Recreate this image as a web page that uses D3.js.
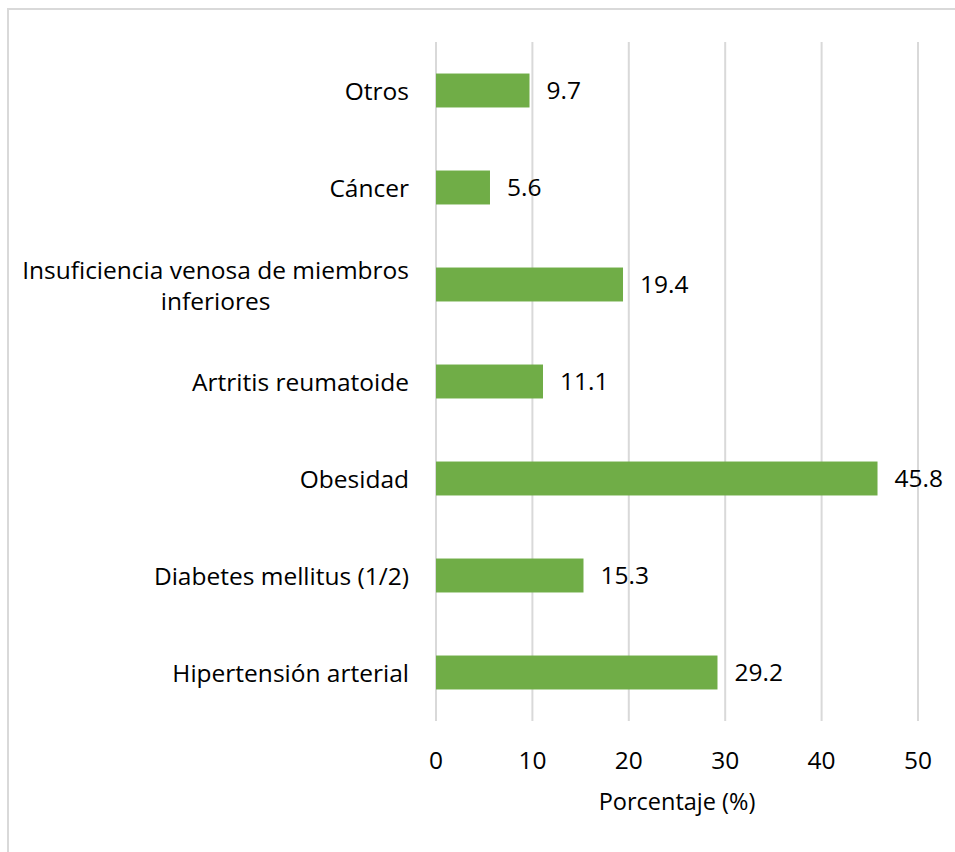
<!DOCTYPE html>
<html>
<head>
<meta charset="utf-8">
<script src="https://cdn.jsdelivr.net/npm/d3@7"></script>
<style>
  html, body { margin: 0; padding: 0; background: #fff; }
  svg { display: block; }
  text { font-family: "Open Sans", Lato, sans-serif; fill: #000; }
</style>
</head>
<body>
<svg id="chart" width="955" height="852"></svg>
<script>
// Comorbidities, top to bottom
const categories = [
  ["Otros"],
  ["Cáncer"],
  ["Insuficiencia venosa de miembros", "inferiores"],
  ["Artritis reumatoide"],
  ["Obesidad"],
  ["Diabetes mellitus (1/2)"],
  ["Hipertensión arterial"]
];
const values = [9.7, 5.6, 19.4, 11.1, 45.8, 15.3, 29.2];
const tickValues = [0, 10, 20, 30, 40, 50];
const axisTitle = "Porcentaje (%)";

const svg = d3.select("#chart");
const fontSize = 24.5;

// outer frame
svg.append("rect")
  .attr("x", 8).attr("y", 9)
  .attr("width", 960).attr("height", 860)
  .attr("fill", "none").attr("stroke", "#d9d9d9").attr("stroke-width", 2);

const plotLeft = 436, plotRight = 918, plotTop = 42, plotBottom = 721;

const x = d3.scaleLinear().domain([0, 50]).range([plotLeft, plotRight]);
const y = d3.scaleBand()
  .domain(categories.map((d, i) => i))
  .range([plotTop, plotBottom])
  .paddingInner(0.65).paddingOuter(0.325);

// vertical gridlines
svg.append("g").selectAll("line")
  .data(tickValues)
  .join("line")
  .attr("x1", d => x(d)).attr("x2", d => x(d))
  .attr("y1", plotTop).attr("y2", plotBottom)
  .attr("stroke", "#d9d9d9").attr("stroke-width", 2);

// bars
svg.append("g").selectAll("rect")
  .data(values)
  .join("rect")
  .attr("x", x(0))
  .attr("y", (d, i) => y(i))
  .attr("width", d => x(d) - x(0))
  .attr("height", y.bandwidth())
  .attr("fill", "#70ad47");

// value labels
svg.append("g").selectAll("text")
  .data(values)
  .join("text")
  .attr("x", d => x(d) + 17)
  .attr("y", (d, i) => y(i) + y.bandwidth() / 2)
  .attr("dy", "0.35em")
  .attr("font-size", fontSize)
  .text(d => d.toFixed(1));

// category labels (multi-line labels are centered within their block, block right-aligned)
const labelRight = 409;
const catG = svg.append("g");
categories.forEach((lines, i) => {
  const cy = y(i) + y.bandwidth() / 2 + 1;
  const t = catG.append("text").attr("font-size", fontSize);
  const lh = 31;
  lines.forEach((ln, j) => {
    t.append("tspan")
      .attr("y", cy + (j - (lines.length - 1) / 2) * lh)
      .attr("dy", "0.35em")
      .text(ln);
  });
  if (lines.length === 1) {
    t.attr("text-anchor", "end");
    t.selectAll("tspan").attr("x", labelRight);
  } else {
    let maxW = 0;
    t.selectAll("tspan").each(function () {
      maxW = Math.max(maxW, this.getComputedTextLength());
    });
    t.attr("text-anchor", "middle");
    t.selectAll("tspan").attr("x", labelRight - maxW / 2);
  }
});

// x axis tick labels
svg.append("g").selectAll("text")
  .data(tickValues)
  .join("text")
  .attr("x", d => x(d))
  .attr("y", 760)
  .attr("dy", "0.35em")
  .attr("text-anchor", "middle")
  .attr("font-size", fontSize)
  .text(d => d);

// axis title
svg.append("text")
  .attr("x", (plotLeft + plotRight) / 2)
  .attr("y", 802)
  .attr("dy", "0.35em")
  .attr("text-anchor", "middle")
  .attr("font-size", 23.5)
  .text(axisTitle);
</script>
</body>
</html>
